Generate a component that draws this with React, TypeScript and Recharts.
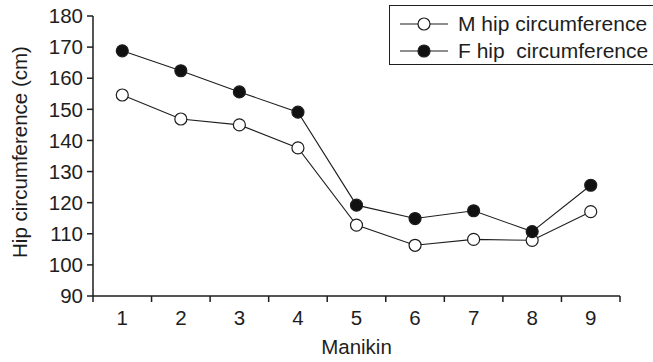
import React from 'react';
import { LineChart, Line, XAxis, YAxis, Legend, Label } from 'recharts';

const manikins = [1, 2, 3, 4, 5, 6, 7, 8, 9];
const maleHip = [154.6, 146.9, 145.0, 137.6, 112.8, 106.3, 108.2, 107.9, 117.1];
const femaleHip = [168.8, 162.4, 155.6, 149.1, 119.2, 114.9, 117.4, 110.7, 125.6];
const yTicks = [90, 100, 110, 120, 130, 140, 150, 160, 170, 180];
const seriesNames = ['M hip circumference', 'F hip  circumference'];

const INK = '#1e1e1e';
const FONT = '"Liberation Sans", Arial, Helvetica, sans-serif';
const AXIS_FS = 20.5;
const dotFill: Record<string, string> = { male: '#fff', female: '#111' };

// tick marks sit on the category boundaries, labels in between
const boundaries = [manikins[0] - 0.5, ...manikins.map((m) => m + 0.5)];
const xTicks = [...boundaries, ...manikins].sort((a, b) => a - b);

const data = manikins.map((m, i) => ({ manikin: m, male: maleHip[i], female: femaleHip[i] }));

const XTick = ({ x, y, payload }: any) => {
  const v = payload.value;
  if (Number.isInteger(v)) {
    return (
      <text x={x} y={y + 23} textAnchor="middle" fontSize={AXIS_FS} fill={INK} fontFamily={FONT}>
        {v}
      </text>
    );
  }
  return <line x1={x} x2={x} y1={y - 6} y2={y} stroke={INK} strokeWidth={1.5} />;
};

const LegendBox = ({ payload }: any) => {
  const items = [...(payload || [])].sort(
    (a: any, b: any) => seriesNames.indexOf(a.value) - seriesNames.indexOf(b.value)
  );
  return (
    <div
      style={{
        border: `1.2px solid ${INK}`,
        background: '#fff',
        height: 60,
        boxSizing: 'border-box',
        paddingTop: 4,
      }}
    >
      {items.map((item: any) => (
        <div key={item.value} style={{ display: 'flex', alignItems: 'center', height: 27 }}>
          <svg width={68} height={20} style={{ flexShrink: 0 }}>
            <line x1={10} x2={58} y1={10} y2={10} stroke={INK} strokeWidth={1.2} />
            <circle cx={34} cy={10} r={6} fill={dotFill[item.dataKey]} stroke={INK} strokeWidth={1.2} />
          </svg>
          <span style={{ fontSize: 21, color: INK, fontFamily: FONT, whiteSpace: 'pre', flexShrink: 0 }}>
            {item.value}
          </span>
        </div>
      ))}
    </div>
  );
};

export default function App() {
  return (
    <div style={{ position: 'absolute', left: 0, top: 0, background: '#fff', overflow: 'hidden', width: 653, height: 362 }}>
      <LineChart width={653} height={362} data={data} margin={{ top: 16, right: 33, bottom: 0, left: 0 }}>
        <XAxis
          dataKey="manikin"
          type="number"
          domain={[boundaries[0], boundaries[boundaries.length - 1]]}
          ticks={xTicks}
          interval={0}
          height={66}
          tickSize={6}
          tickMargin={0}
          tickLine={false}
          tick={<XTick />}
          axisLine={{ stroke: INK, strokeWidth: 1.5 }}
        >
          <Label
            content={({ viewBox }: any) => (
              <text
                x={viewBox.x + viewBox.width / 2}
                y={viewBox.y + 58}
                textAnchor="middle"
                fontSize={AXIS_FS}
                fill={INK}
                fontFamily={FONT}
              >
                Manikin
              </text>
            )}
          />
        </XAxis>
        <YAxis
          type="number"
          domain={[yTicks[0], yTicks[yTicks.length - 1]]}
          ticks={yTicks}
          interval={0}
          width={93}
          tickSize={6}
          tickMargin={4}
          tick={{ fontSize: AXIS_FS, fill: INK, fontFamily: FONT }}
          tickLine={{ stroke: INK, strokeWidth: 1.5 }}
          axisLine={{ stroke: INK, strokeWidth: 1.5 }}
        >
          <Label
            content={({ viewBox }: any) => {
              const cx = viewBox.x + 19;
              const cy = viewBox.y + viewBox.height / 2 - 4;
              return (
                <text
                  x={cx}
                  y={cy}
                  transform={`rotate(-90 ${cx} ${cy})`}
                  textAnchor="middle"
                  dominantBaseline="central"
                  fontSize={AXIS_FS}
                  fill={INK}
                  fontFamily={FONT}
                >
                  Hip circumference (cm)
                </text>
              );
            }}
          />
        </YAxis>
        <Legend
          verticalAlign="middle"
          align="center"
          layout="horizontal"
          content={<LegendBox />}
          wrapperStyle={{ position: 'absolute', top: 5, left: 389, width: 268, height: 60 }}
        />
        <Line
          name={seriesNames[0]}
          dataKey="male"
          stroke={INK}
          strokeWidth={1.1}
          dot={{ r: 6, fill: dotFill.male, stroke: INK, strokeWidth: 1.2 }}
          isAnimationActive={false}
        />
        <Line
          name={seriesNames[1]}
          dataKey="female"
          stroke={INK}
          strokeWidth={1.1}
          dot={{ r: 6, fill: dotFill.female, stroke: INK, strokeWidth: 1.2 }}
          isAnimationActive={false}
        />
      </LineChart>
    </div>
  );
}
